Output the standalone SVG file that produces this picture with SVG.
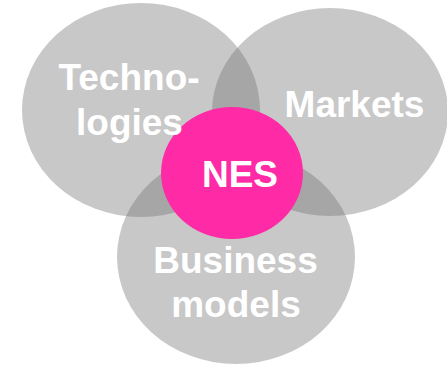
<svg xmlns="http://www.w3.org/2000/svg" width="447" height="365" viewBox="0 0 447 365">
<style>
.set{fill:#6e6e6e;fill-opacity:0.38}
.lbl{font-family:"Liberation Sans",Arial,sans-serif;font-weight:bold;font-size:37px;fill:#ffffff;text-anchor:middle}
</style>
<rect width="447" height="365" fill="#ffffff"/>
<g id="technologies">
<ellipse class="set" cx="141" cy="110" rx="119" ry="107"/>
</g>
<g id="markets">
<ellipse class="set" cx="330" cy="112" rx="118" ry="104"/>
</g>
<g id="business-models">
<ellipse class="set" cx="236" cy="257" rx="119" ry="107"/>
</g>
<g id="nes">
<ellipse cx="232" cy="173" rx="71" ry="66" fill="#ff2aa5"/>
</g>
<g id="labels">
<text class="lbl" x="129" y="90">Techno-</text>
<text class="lbl" x="129.5" y="135">logies</text>
<text class="lbl" x="354.5" y="117">Markets</text>
<text class="lbl" x="240" y="187">NES</text>
<text class="lbl" x="235.5" y="273">Business</text>
<text class="lbl" x="236" y="317">models</text>
</g>
<g id="connectors"></g>
</svg>
